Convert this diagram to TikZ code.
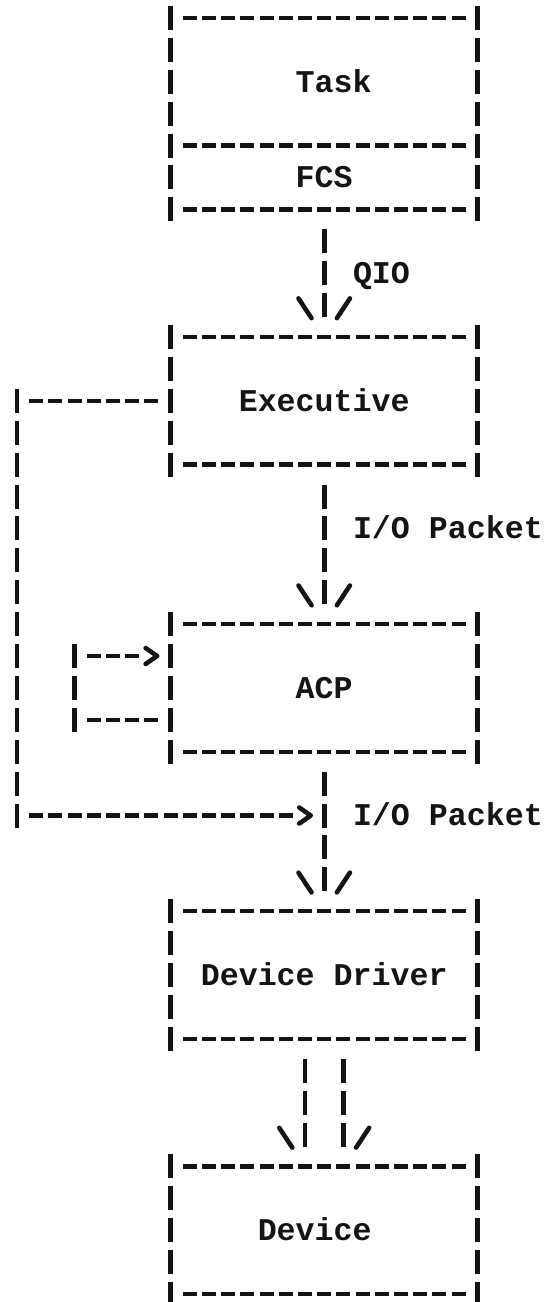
\documentclass[tikz,border=0pt]{standalone}
\usepackage{fontspec}
\setmonofont{Liberation Mono}
\usepackage{xcolor}
\usepackage{tikz}
\usetikzlibrary{calc}
\definecolor{ink}{HTML}{141414}
\definecolor{paper}{HTML}{FFFFFF}
\tikzset{
  typed/.style={font=\ttfamily\bfseries\fontsize{18}{18}\selectfont, text=ink,
    inner sep=0pt, outer sep=0pt, text height=11.9pt, text depth=0pt},
  box/.style={typed, minimum width=6.144cm, minimum height=2.552cm},
  lowbox/.style={box, minimum height=1.276cm},
  hrule/.style={draw=ink, line width=2.4pt, dash pattern=on 0.28cm off 0.104cm},
  vrule/.style={draw=ink, line width=2.8pt, dash pattern=on 0.48cm off 0.158cm},
  slash/.style={draw=ink, line width=2.6pt, line cap=round, line join=round},
  lab/.style={typed, anchor=west},
  pics/head/.style={code={
    \draw[slash] (-#1-0.34,-0.21) -- (-#1+0.34,0.41);
    \draw[slash] (#1+0.34,-0.21) -- (#1-0.34,0.41);
  }},
  pics/chev/.style={code={
    \draw[slash] (-0.3,-0.25) -- (0.3,0) -- (-0.3,0.25);
  }},
}

\begin{document}
\begin{tikzpicture}[x=0.384cm, y=-0.638cm]
  \fill[paper] (-0.885,-0.564) rectangle (27.52,40.25);
  \useasboundingbox (-0.885,-0.564) rectangle (27.52,40.25);

  % even-length words sit half a column off centre on the typed grid
  \node[box]    (task)   at (16,2)  {\hphantom{x}Task};
  \node[lowbox] (fcs)    at (16,5)  {FCS};
  \node[box]    (exec)   at (16,12) {Executive};
  \node[box]    (acp)    at (16,21) {ACP};
  \node[box]    (driver) at (16,30) {Device Driver};
  \node[box]    (device) at (16,38) {Device\hphantom{x}};

  % typed frames: dashes across, bars down the sides
  \foreach \b in {task,fcs,exec,acp,driver,device} {
    \draw[hrule] ($(\b.north west)+(0.635,0)$) -- ($(\b.north east)+(-0.635,0)$);
    \draw[hrule] ($(\b.south west)+(0.635,0)$) -- ($(\b.south east)+(-0.635,0)$);
    \draw[vrule] ($(\b.north west)+(0,-0.376)$) -- ($(\b.south west)+(0,0.376)$);
    \draw[vrule] ($(\b.north east)+(0,-0.376)$) -- ($(\b.south east)+(0,0.376)$);
  }

  % requests down the stack
  \draw[vrule] ($(fcs.south)+(0,0.624)$)  -- ($(exec.north)+(0,-0.624)$);
  \draw[vrule] ($(exec.south)+(0,0.624)$) -- ($(acp.north)+(0,-0.624)$);
  \draw[vrule] ($(acp.south)+(0,0.624)$)  -- ($(driver.north)+(0,-0.624)$);
  \foreach \dx in {-1,1}
    \draw[vrule] ($(driver.south)+(\dx,0.624)$) -- ($(device.north)+(\dx,-0.624)$);
  \pic at ($(exec.north)+(0,-1)$)   {head=1};
  \pic at ($(acp.north)+(0,-1)$)    {head=1};
  \pic at ($(driver.north)+(0,-1)$) {head=1};
  \pic at ($(device.north)+(0,-1)$) {head=2};

  \node[lab] (qio)  at ($(fcs.south)+(1.5,2)$)  {QIO};
  \node[lab] (pkt1) at ($(exec.south)+(1.5,2)$) {I/O Packet};
  \node[lab] (pkt2) at ($(acp.south)+(1.5,2)$)  {I/O Packet};

  % bypass from the executive to the driver queue
  \coordinate (bend1) at ($(exec.west)+(-8,0)$);
  \coordinate (join)  at ($(acp.south)+(0,2)$);
  \coordinate (bend2) at (bend1 |- join);
  \draw[hrule] ($(exec.west)+(-0.635,0)$) -- ($(bend1)+(0.635,0)$);
  \draw[vrule] ($(bend1)+(0,-0.376)$) -- ($(bend2)+(0,0.376)$);
  \draw[hrule] ($(bend2)+(0.635,0)$) -- ($(join)+(-1.635,0)$);
  \pic at ($(join)+(-1,0)$) {chev};

  % ACP calls itself
  \coordinate (loopin)  at ($(acp.west)+(0,-1)$);
  \coordinate (loopout) at ($(acp.west)+(0,1)$);
  \draw[hrule] ($(loopout)+(-0.635,0)$) -- ($(loopout)+(-4.365,0)$);
  \draw[vrule] ($(loopin)+(-5,-0.376)$) -- ($(loopout)+(-5,0.376)$);
  \draw[hrule] ($(loopin)+(-4.365,0)$) -- ($(loopin)+(-1.635,0)$);
  \pic at ($(loopin)+(-1,0)$) {chev};
\end{tikzpicture}
\end{document}
